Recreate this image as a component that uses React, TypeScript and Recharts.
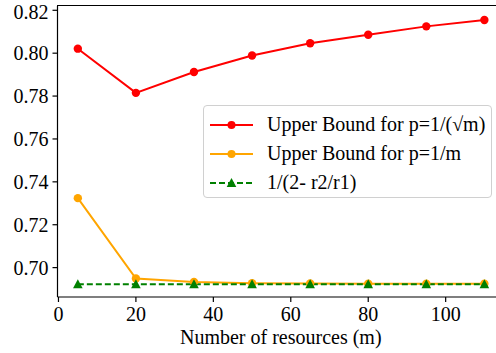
import { LineChart, Line, XAxis, YAxis, Legend } from 'recharts'

const resources = [5, 20, 35, 50, 65, 80, 95, 110]
const boundSqrt = [0.8021, 0.7815, 0.7912, 0.7989, 0.8046, 0.8086, 0.8125, 0.8155]
const boundInv = [0.7324, 0.6949, 0.6933, 0.6927, 0.6926, 0.6925, 0.6925, 0.6925]
const ratioBound = [0.6922, 0.6922, 0.6922, 0.6922, 0.6922, 0.6922, 0.6922, 0.6922]

const xTicks = [0, 20, 40, 60, 80, 100]
const yTicks = [0.7, 0.72, 0.74, 0.76, 0.78, 0.8, 0.82]

const seriesNames = ['Upper Bound for p=1/(√m)', 'Upper Bound for p=1/m', '1/(2- r2/r1)']

const data = resources.map((m, i) => ({
  m,
  sqrt: boundSqrt[i],
  inv: boundInv[i],
  ratio: ratioBound[i],
}))

const FONT = "'Liberation Serif', 'Times New Roman', serif"

const css = `
.chart-box svg text { font-family: ${FONT} !important; font-size: 20px; fill: #000; }
`

const Triangle = (props: any) => {
  const { cx, cy, fill } = props
  if (cx == null || cy == null) return null
  return <polygon points={`${cx},${cy - 5} ${cx - 4.8},${cy + 4} ${cx + 4.8},${cy + 4}`} fill={fill} />
}

const legendItems = [
  { name: seriesNames[0], color: '#ff0000', dash: undefined, marker: 'circle' },
  { name: seriesNames[1], color: '#ffa500', dash: undefined, marker: 'circle' },
  { name: seriesNames[2], color: '#008000', dash: '6 3', marker: 'triangle' },
]

function ChartLegend() {
  return (
    <div
      style={{
        background: 'rgba(255,255,255,0.85)',
        border: '1px solid #d0d0d0',
        borderRadius: 4,
        width: 289,
        height: 93,
        boxSizing: 'border-box',
        paddingTop: 4,
      }}
    >
      {legendItems.map((item) => (
        <div key={item.name} style={{ display: 'flex', alignItems: 'center', height: 29 }}>
          <svg width={63} height={20} style={{ flex: 'none' }}>
            <line x1={6} x2={49} y1={10} y2={10} stroke={item.color} strokeWidth={2} strokeDasharray={item.dash} />
            {item.marker === 'circle' ? (
              <circle cx={27.5} cy={10} r={4} fill={item.color} />
            ) : (
              <polygon points="27.5,5 22.7,14 32.3,14" fill={item.color} />
            )}
          </svg>
          <span style={{ fontFamily: FONT, fontSize: 20, color: '#000', whiteSpace: 'nowrap' }}>{item.name}</span>
        </div>
      ))}
    </div>
  )
}

export default function App() {
  return (
    <div
      className="chart-box"
      style={{ position: 'fixed', left: 0, top: 0, width: 496, height: 353, background: '#fff', fontFamily: FONT }}
    >
      <style>{css}</style>
      {/* top spine */}
      <div style={{ position: 'absolute', left: 57, top: 5.4, width: 439, height: 0, borderTop: '1.2px solid #000', zIndex: 1 }} />
      <LineChart width={496} height={353} data={data} margin={{ top: 6, right: 0, left: 0, bottom: 0 }}>
        <XAxis
          dataKey="m"
          type="number"
          domain={[-0.25, 113]}
          ticks={xTicks}
          allowDataOverflow
          tick={{ fill: '#000', fontSize: 20, fontFamily: FONT }}
          tickSize={5}
          tickMargin={5}
          stroke="#000"
          strokeWidth={1.2}
          height={56}
          label={{ value: 'Number of resources (m)', position: 'insideBottom', offset: 9.5, dx: 4, fill: '#000', fontSize: 20, fontFamily: FONT }}
        />
        <YAxis
          type="number"
          domain={[0.6863, 0.822]}
          ticks={yTicks}
          allowDataOverflow
          tickFormatter={(v: number) => v.toFixed(2)}
          tick={{ fill: '#000', fontSize: 20, fontFamily: FONT }}
          tickSize={5}
          tickMargin={4}
          stroke="#000"
          strokeWidth={1.2}
          width={57.5}
        />
        <Legend
          layout="vertical"
          align="center"
          verticalAlign="middle"
          wrapperStyle={{ left: 203, top: 105, width: 'auto' }}
          content={() => <ChartLegend />}
        />
        <Line
          dataKey="sqrt"
          name={seriesNames[0]}
          stroke="#ff0000"
          strokeWidth={2}
          dot={{ r: 4.2, fill: '#ff0000', stroke: '#ff0000', strokeWidth: 0 }}
          activeDot={false}
          isAnimationActive={false}
        />
        <Line
          dataKey="inv"
          name={seriesNames[1]}
          stroke="#ffa500"
          strokeWidth={2}
          dot={{ r: 4.2, fill: '#ffa500', stroke: '#ffa500', strokeWidth: 0 }}
          activeDot={false}
          isAnimationActive={false}
        />
        <Line
          dataKey="ratio"
          name={seriesNames[2]}
          stroke="#008000"
          strokeWidth={2}
          strokeDasharray="6 3"
          dot={<Triangle fill="#008000" />}
          activeDot={false}
          isAnimationActive={false}
        />
      </LineChart>
    </div>
  )
}
